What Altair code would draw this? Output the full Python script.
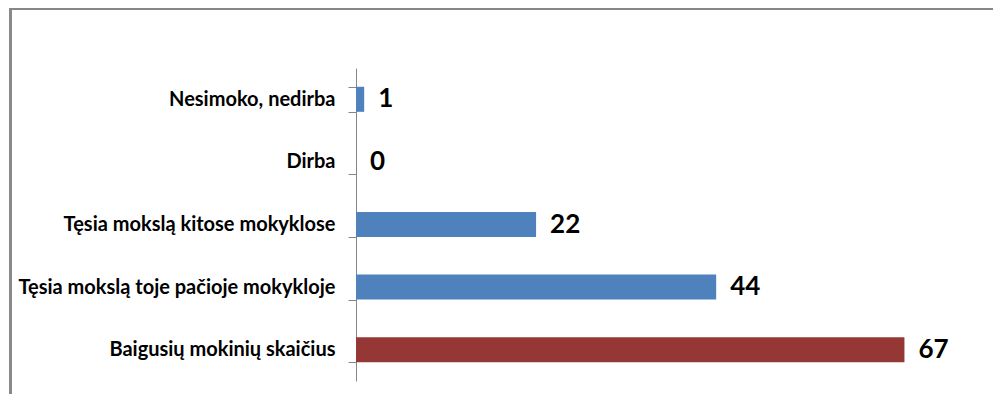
import altair as alt
import pandas as pd

categories = [
    "Nesimoko, nedirba",
    "Dirba",
    "Tęsia mokslą kitose mokyklose",
    "Tęsia mokslą toje pačioje mokykloje",
    "Baigusių mokinių skaičius",
]
values = [1, 0, 22, 44, 67]
groups = ["part", "part", "part", "part", "total"]

df = pd.DataFrame({"cat": categories, "val": values, "grp": groups})

FONT = "Lato"

y_enc = alt.Y(
    "cat:N",
    sort=categories,
    scale=alt.Scale(paddingInner=0.6, paddingOuter=0.3),
    axis=alt.Axis(
        title=None,
        tickBand="extent",
        tickSize=8,
        tickColor="#868686",
        domainColor="#868686",
        labelFont=FONT,
        labelFontSize=20,
        labelFontWeight="bold",
        labelColor="#000000",
        labelPadding=13,
        labelLimit=400,
        grid=False,
    ),
)
x_scale = alt.Scale(domain=[0, 70], nice=False)

bars = alt.Chart(df).mark_bar().encode(
    x=alt.X("val:Q", scale=x_scale, axis=None),
    y=y_enc,
    color=alt.Color(
        "grp:N",
        scale=alt.Scale(domain=["part", "total"], range=["#4F81BD", "#953735"]),
        legend=None,
    ),
)

labels = alt.Chart(df).mark_text(
    align="left", baseline="middle", dx=14, font=FONT, fontSize=26,
    fontWeight="bold", color="#000000"
).encode(
    x=alt.X("val:Q", scale=x_scale),
    y=alt.Y("cat:N", sort=categories),
    text=alt.Text("val:Q"),
)

frame_left = alt.Chart(df).mark_rule(color="#878787", strokeWidth=2).encode(
    x=alt.value(-345.5), y=alt.value(-60), y2=alt.value(330)
)
frame_top = alt.Chart(df).mark_rule(color="#878787", strokeWidth=2).encode(
    x=alt.value(-346), x2=alt.value(640), y=alt.value(-59)
)

chart = (
    alt.layer(bars, labels, frame_left, frame_top)
    .properties(
        width=573,
        height=313,
        autosize=alt.AutoSizeParams(type="none"),
        padding={"left": 348, "top": 60, "right": 64, "bottom": 13},
    )
    .configure_view(stroke=None)
)

chart.save("out.html", embed_options={"renderer": "svg", "actions": False})
